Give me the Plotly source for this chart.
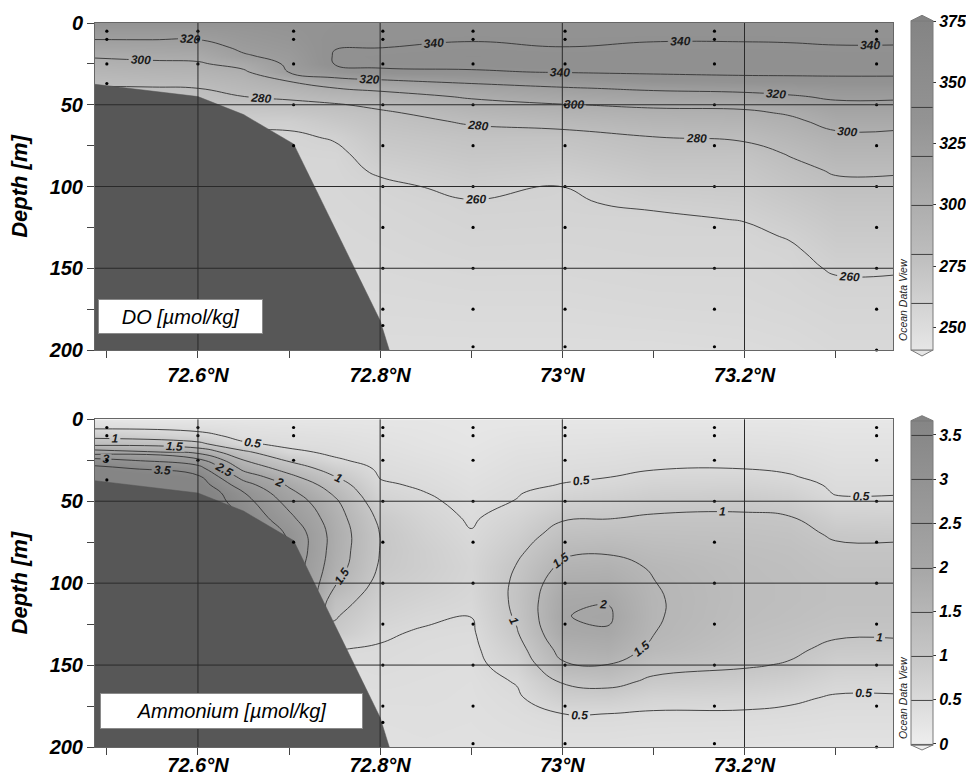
import numpy as np
import plotly.graph_objects as go

# ---------------- canvas / layout helpers ----------------
W, H = 966, 778
M_L, M_R, M_T, M_B = 95, 73, 23, 31
PW, PH = W - M_L - M_R, H - M_T - M_B


def fx(px):
    return (px - M_L) / PW


def fy(py):
    return 1 - (py - M_T) / PH


FONT = "Liberation Sans, Arial, sans-serif"

# ---------------- axes / ticks ----------------
lat_range = [72.487, 73.363]
depth_range = [200, 0]
lat_ticks = [72.6, 72.8, 73.0, 73.2]
lat_ticktext = ["72.6°N", "72.8°N", "73°N", "73.2°N"]
lat_minor = [72.5, 72.7, 72.9, 73.1, 73.3]
depth_ticks = [0, 50, 100, 150, 200]
depth_minor = [25, 75, 125, 175]
grid_depths = [50, 100, 150]

# ---------------- stations (sample points) ----------------
station_lat = [72.5, 72.6, 72.705, 72.803, 72.902, 73.003, 73.167, 73.345]
station_depths = [
    [5, 10, 25, 37],
    [5, 10, 25],
    [5, 10, 25, 50, 75],
    [5, 10, 25, 50, 75, 100, 125, 150, 175, 185],
    [5, 10, 25, 50, 75, 100, 125, 150, 175, 198],
    [5, 10, 25, 50, 75, 100, 125, 150, 175, 198],
    [5, 10, 25, 50, 75, 100, 125, 150, 175, 198],
    [5, 10, 25, 50, 75, 100, 125, 150, 175, 200],
]

# ---------------- bathymetry ----------------
bathy_lat = [72.487, 72.6, 72.65, 72.705, 72.8, 72.81]
bathy_depth = [37.5, 45, 56, 74, 182, 200]

# ---------------- DO field (µmol/kg), read from the section ----------------
do_lat = [72.487, 72.55, 72.6, 72.65, 72.7, 72.75, 72.8, 72.9, 73.0, 73.1, 73.2, 73.25, 73.3, 73.363]
do_depth = [0, 5, 10, 15, 20, 25, 30, 35, 40, 45, 50, 55, 60, 70, 80, 90, 100, 110, 120, 130, 140, 150, 160, 175, 200]
do_profiles = [
    [334, 327, 320.2, 311, 302, 295, 289, 283, 279, 277, 274, 271, 268, 263, 259, 257, 256, 255, 254, 253, 253, 252, 252, 251, 250],
    [334, 327, 320.4, 312, 304, 297, 291, 285, 279, 277, 274, 271, 268, 263, 259, 257, 256, 255, 254, 253, 253, 252, 252, 251, 250],
    [334, 327, 320.2, 313, 305, 298, 292, 286, 279.9, 277, 274, 271, 268, 263, 259, 257, 256, 255, 254, 253, 253, 252, 252, 251, 250],
    [334, 330, 327, 323, 318.5, 306, 297, 291, 286, 279.9, 275, 269, 264, 258, 256, 255, 254, 253, 252, 252, 251, 251, 250, 250, 250],
    [335, 333, 331, 328, 325, 323, 320.6, 301.4, 291.6, 282.7, 276, 270.4, 263.5, 257.5, 256.5, 256, 255.5, 255, 254.5, 254, 253.5, 253, 252.5, 251.5, 250],
    [336, 337, 338.5, 339.6, 340.8, 340.4, 330.1, 315.5, 299.5, 287.8, 278.5, 274.2, 269.9, 261.2, 256.8, 256, 255.5, 255, 254.5, 254, 253.5, 253, 252.5, 251.5, 250],
    [336, 337.3, 338.6, 339.9, 342, 341.6, 338.5, 319.1, 303.7, 293, 283.7, 277.5, 275.5, 271, 266.5, 261.8, 257.5, 256.5, 255.7, 255, 254.3, 253.7, 253, 252, 250],
    [337, 338.2, 339.4, 341.6, 344.4, 342.6, 338.9, 324.8, 312.8, 302, 294.6, 288.1, 281.6, 275, 271, 267, 263.1, 259.2, 258.2, 257.2, 256.2, 255.1, 254, 252.5, 250],
    [337, 338, 339, 340.1, 343.1, 343.8, 340.6, 330.1, 318.3, 308.7, 299.3, 292.5, 285.7, 274.5, 270, 265, 259.6, 258.8, 257.9, 256.9, 256, 255, 254, 252.5, 250],
    [337, 338.2, 339.4, 341.4, 344, 343.6, 341.1, 336.5, 322.7, 312.5, 302.7, 296, 290.4, 279.7, 275.3, 270.8, 266.3, 261.9, 258, 257.5, 256.8, 256, 255, 253.5, 250],
    [337, 338.2, 339.4, 341.4, 344, 343.6, 341.4, 338, 325.1, 314.6, 304.2, 297, 291.9, 281.8, 275, 271, 267.5, 264, 260.5, 257.5, 256.8, 256, 255.2, 254, 251],
    [337, 338.1, 339.3, 341, 343.9, 343.2, 341.4, 338.3, 327.2, 318.2, 309.9, 301.7, 296.8, 288.8, 280.8, 276.5, 272.6, 268.7, 264.9, 261, 258, 257.2, 256.4, 255, 252],
    [337, 338, 339.1, 340.4, 343.3, 344, 341.5, 338.5, 329.9, 322.7, 316.5, 310.9, 305.4, 296.1, 288.7, 281.3, 277.3, 273.4, 270.3, 267.3, 264.4, 261.1, 258.5, 256.5, 254],
    [337, 338, 339.1, 340.4, 343.3, 344, 341.5, 338.5, 329.9, 322.7, 316.5, 310.9, 305.4, 296.1, 288.7, 281.3, 277.3, 273.4, 270.3, 267.3, 264.4, 261.1, 258.5, 256.5, 254],
]
do_isolines = [260, 280, 300, 320, 340]
do_crange = [240.7, 375.2]
do_cbar_ticks = [250, 275, 300, 325, 350, 375]
do_colors = [[0.0, "#e6e6e6"], [0.3, "#bcbcbc"], [0.7, "#939393"], [1.0, "#848484"]]

# ---------------- Ammonium field (µmol/kg), read from the section ----------------
nh4_lat = [72.487, 72.6, 72.65, 72.7, 72.75, 72.8, 72.85, 72.9, 72.95, 73.0, 73.05, 73.1, 73.2, 73.25, 73.3, 73.363]
nh4_depth = [0, 5, 10, 15, 20, 25, 30, 35, 40, 45, 50, 60, 70, 80, 90, 100, 110, 120, 130, 140, 150, 160, 170, 180, 190, 200]
nh4_profiles = [
    [0.2, 0.43, 0.84, 1.33, 2.23, 3.19, 3.65, 3.88, 4.0, 4.0, 4.0, 4.0, 4.0, 4.0, 4.0, 4.0, 4.0, 4.0, 4.0, 4.0, 4.0, 4.0, 4.0, 4.0, 4.0, 4.0],
    [0.2, 0.37, 0.63, 1.12, 1.87, 2.65, 3.21, 3.58, 3.79, 4.0, 4.0, 4.0, 4.0, 4.0, 4.0, 4.0, 4.0, 4.0, 4.0, 4.0, 4.0, 4.0, 4.0, 4.0, 4.0, 4.0],
    [0.2, 0.31, 0.38, 0.55, 1.1, 1.51, 1.86, 2.3, 2.71, 3.03, 3.2, 3.45, 3.45, 3.45, 3.45, 3.45, 3.45, 3.45, 3.45, 3.45, 3.45, 3.45, 3.45, 3.45, 3.45, 3.45],
    [0.2, 0.28, 0.36, 0.42, 0.57, 0.94, 1.29, 1.62, 1.93, 2.14, 2.32, 2.62, 2.95, 3.0, 2.9, 2.9, 3.0, 2.5, 0.9, 0.5, 0.4, 0.4, 0.4, 0.4, 0.4, 0.4],
    [0.2, 0.26, 0.33, 0.39, 0.44, 0.54, 0.78, 1.01, 1.25, 1.43, 1.58, 1.72, 1.80, 1.78, 1.72, 1.55, 1.22, 1.04, 0.9, 0.51, 0.42, 0.4, 0.38, 0.36, 0.35, 0.35],
    [0.2, 0.24, 0.28, 0.32, 0.36, 0.4, 0.44, 0.48, 0.55, 0.63, 0.72, 0.9, 0.99, 0.99, 0.95, 0.85, 0.77, 0.66, 0.54, 0.48, 0.45, 0.42, 0.39, 0.36, 0.35, 0.35],
    [0.2, 0.22, 0.24, 0.26, 0.29, 0.33, 0.37, 0.41, 0.45, 0.505, 0.55, 0.64, 0.72, 0.78, 0.79, 0.74, 0.65, 0.55, 0.47, 0.44, 0.42, 0.4, 0.39, 0.37, 0.36, 0.35],
    [0.18, 0.19, 0.2, 0.22, 0.24, 0.26, 0.29, 0.32, 0.35, 0.38, 0.41, 0.46, 0.52, 0.58, 0.62, 0.6, 0.56, 0.505, 0.45, 0.42, 0.4, 0.38, 0.37, 0.36, 0.35, 0.34],
    [0.18, 0.21, 0.25, 0.28, 0.32, 0.35, 0.38, 0.41, 0.44, 0.48, 0.51, 0.65, 0.78, 0.9, 1.02, 1.08, 1.1, 1.06, 0.97, 0.82, 0.67, 0.52, 0.45, 0.41, 0.38, 0.35],
    [0.18, 0.22, 0.26, 0.3, 0.34, 0.38, 0.42, 0.46, 0.51, 0.62, 0.72, 0.95, 1.17, 1.39, 1.6, 1.8, 1.93, 1.985, 1.9, 1.68, 1.43, 1.04, 0.77, 0.49, 0.41, 0.35],
    [0.18, 0.22, 0.27, 0.31, 0.36, 0.4, 0.45, 0.49, 0.58, 0.68, 0.78, 0.98, 1.21, 1.45, 1.64, 1.82, 1.97, 2.06, 1.96, 1.76, 1.49, 1.14, 0.79, 0.49, 0.41, 0.35],
    [0.18, 0.23, 0.28, 0.34, 0.39, 0.44, 0.48, 0.58, 0.67, 0.77, 0.86, 1.04, 1.18, 1.32, 1.46, 1.51, 1.53, 1.53, 1.51, 1.41, 1.15, 0.92, 0.64, 0.46, 0.39, 0.33],
    [0.18, 0.23, 0.29, 0.34, 0.39, 0.45, 0.495, 0.59, 0.69, 0.8, 0.9, 1.05, 1.15, 1.23, 1.28, 1.3, 1.3, 1.28, 1.22, 1.14, 1.04, 0.84, 0.61, 0.46, 0.38, 0.32],
    [0.18, 0.23, 0.27, 0.32, 0.37, 0.42, 0.46, 0.52, 0.62, 0.72, 0.82, 1.02, 1.12, 1.19, 1.23, 1.25, 1.25, 1.22, 1.15, 1.07, 0.97, 0.76, 0.55, 0.44, 0.37, 0.3],
    [0.16, 0.2, 0.24, 0.28, 0.31, 0.34, 0.38, 0.41, 0.45, 0.48, 0.56, 0.75, 0.95, 1.07, 1.14, 1.19, 1.19, 1.14, 1.06, 0.92, 0.76, 0.6, 0.47, 0.41, 0.35, 0.3],
    [0.16, 0.2, 0.24, 0.28, 0.31, 0.34, 0.38, 0.41, 0.45, 0.48, 0.55, 0.74, 0.93, 1.07, 1.14, 1.19, 1.19, 1.14, 1.05, 0.91, 0.75, 0.59, 0.47, 0.41, 0.35, 0.3],
]
nh4_isolines = [0.5, 1.0, 1.5, 2.0, 2.5, 3.0, 3.5]
nh4_crange = [-0.01, 3.66]
nh4_cbar_ticks = [0, 0.5, 1, 1.5, 2, 2.5, 3, 3.5]
nh4_colors = [[0.0, "#eeeeee"], [0.275, "#c6c6c6"], [0.55, "#a6a6a6"], [1.0, "#858585"]]

# plotly spaces contour labels more densely when a trace has many levels; padding the
# level list below the data range (no lines there) gives ODV-like label density
LEVEL_SLOTS = 46

# ---------------- styles ----------------
BATHY_COL = "#575757"
GRID_COL = "#2a2a2a"
FRAME_COL = "#666666"
CB_LINE = "#7a7a7a"
TICK_FONT = dict(family=FONT, size=20, color="black", weight="bold", style="italic")
CB_FONT = dict(family=FONT, size=16, color="black", weight="bold", style="italic")
LABEL_FONT = dict(family=FONT, size=12, color="#1a1a1a", weight="bold", style="italic")

# panel geometry (pixels) -> paper fractions
top_dom = [fy(350), 1.0]
bot_dom = [0.0, fy(419.3)]
CB_X0, CB_X1 = 911, 933
cb_top = dict(bottom=350.0, top=20.8)
cb_bot = dict(bottom=745.0, top=420.7)

fig = go.Figure()


def add_panel(xa, ya, lat, depth, profiles, isolines, crange, colors, cbticks, cbpix):
    z = np.array(profiles, dtype=float).T
    step = isolines[1] - isolines[0]
    top = isolines[-1]
    fig.add_trace(go.Contour(
        x=lat, y=depth, z=z, xaxis=xa, yaxis=ya,
        zauto=False, zmin=crange[0], zmax=crange[1], colorscale=colors,
        autocontour=False,
        contours=dict(start=top - step * (LEVEL_SLOTS - 1), end=top, size=step,
                      coloring="heatmap", showlabels=True, labelfont=LABEL_FONT),
        line=dict(color="#333333", width=0.9, smoothing=1.3),
        hoverinfo="skip",
        colorbar=dict(
            x=fx(CB_X0), xanchor="left", xpad=0,
            y=fy((cbpix["bottom"] + cbpix["top"]) / 2), yanchor="middle", ypad=0,
            len=(cbpix["bottom"] - cbpix["top"]) / PH, lenmode="fraction",
            thickness=CB_X1 - CB_X0, thicknessmode="pixels",
            outlinecolor=CB_LINE, outlinewidth=1,
            tickmode="array", tickvals=cbticks,
            ticks="outside", ticklen=3, tickcolor="#333",
            tickfont=CB_FONT,
        ),
    ))
    # bathymetry
    fig.add_trace(go.Scatter(
        x=bathy_lat + [lat_range[0]], y=bathy_depth + [depth_range[0]],
        xaxis=xa, yaxis=ya, mode="lines", fill="toself", fillcolor=BATHY_COL,
        line=dict(color=BATHY_COL, width=0.5), hoverinfo="skip", showlegend=False))
    # station sample points
    sx, sy = [], []
    for la, ds in zip(station_lat, station_depths):
        sx += [la] * len(ds)
        sy += ds
    fig.add_trace(go.Scatter(
        x=sx, y=sy, xaxis=xa, yaxis=ya, mode="markers",
        marker=dict(size=3.2, color="black"), cliponaxis=False,
        hoverinfo="skip", showlegend=False))


add_panel("x", "y", do_lat, do_depth, do_profiles, do_isolines, do_crange, do_colors, do_cbar_ticks, cb_top)
add_panel("x2", "y2", nh4_lat, nh4_depth, nh4_profiles, nh4_isolines, nh4_crange, nh4_colors, nh4_cbar_ticks, cb_bot)

xa_common = dict(
    range=lat_range, tickmode="array", tickvals=lat_ticks, ticktext=lat_ticktext,
    ticks="outside", ticklen=7, tickwidth=1, tickcolor="#444",
    minor=dict(tickmode="array", tickvals=lat_minor, ticks="outside", ticklen=7, tickcolor="#444"),
    showgrid=False, zeroline=False, showline=True, mirror=True,
    linecolor=FRAME_COL, linewidth=1, tickfont=TICK_FONT, domain=[0, 1],
)
ya_common = dict(
    range=depth_range, tickmode="array", tickvals=depth_ticks,
    ticks="outside", ticklen=7, tickwidth=1, tickcolor="#444",
    minor=dict(tickmode="array", tickvals=depth_minor, ticks="outside", ticklen=7, tickcolor="#444"),
    showgrid=False, zeroline=False, showline=True, mirror=True,
    linecolor=FRAME_COL, linewidth=1, tickfont=TICK_FONT,
    title=dict(text="Depth [m]", standoff=14,
               font=dict(family=FONT, size=22, color="black", weight="bold", style="italic")),
)

shapes = []
annotations = []
for xr, yr in (("x", "y"), ("x2", "y2")):
    for la in lat_ticks:
        shapes.append(dict(type="line", xref=xr, yref=yr + " domain", x0=la, x1=la, y0=0, y1=1,
                           line=dict(color=GRID_COL, width=1), layer="above"))
    for d in grid_depths:
        shapes.append(dict(type="line", xref=xr + " domain", yref=yr, x0=0, x1=1, y0=d, y1=d,
                           line=dict(color=GRID_COL, width=1), layer="above"))


# colour bar arrow caps (ODV style)
def cap(base_py, tip_py, color):
    xm = (CB_X0 + CB_X1) / 2
    path = "M {} {} L {} {} L {} {} Z".format(fx(CB_X0), fy(base_py), fx(xm), fy(tip_py), fx(CB_X1), fy(base_py))
    return dict(type="path", xref="paper", yref="paper", path=path,
                fillcolor=color, line=dict(color=CB_LINE, width=1), layer="above")


shapes.append(cap(cb_top["top"], cb_top["top"] - 5.5, do_colors[-1][1]))
shapes.append(cap(cb_top["bottom"], cb_top["bottom"] + 6, do_colors[0][1]))
shapes.append(cap(cb_bot["top"], cb_bot["top"] - 5, nh4_colors[-1][1]))
shapes.append(cap(cb_bot["bottom"], cb_bot["bottom"] + 5, nh4_colors[0][1]))

# variable name boxes
annotations.append(dict(text="DO [µmol/kg]", xref="paper", yref="paper",
                        x=fx(98), y=fy(334), xanchor="left", yanchor="bottom",
                        showarrow=False, bgcolor="white", bordercolor="#8a8a8a", borderwidth=1,
                        borderpad=3, width=157, height=27,
                        font=dict(family=FONT, size=20, color="black", style="italic")))
annotations.append(dict(text="Ammonium [µmol/kg]", xref="paper", yref="paper",
                        x=fx(100), y=fy(729), xanchor="left", yanchor="bottom",
                        showarrow=False, bgcolor="white", bordercolor="#8a8a8a", borderwidth=1,
                        borderpad=3, width=255, height=28,
                        font=dict(family=FONT, size=20, color="black", style="italic")))
for cy in (300, 698):
    annotations.append(dict(text="Ocean Data View", xref="paper", yref="paper",
                            x=fx(903), y=fy(cy), xanchor="center", yanchor="middle",
                            textangle=-90, showarrow=False,
                            font=dict(family=FONT, size=10.5, color="#222", style="italic")))

fig.update_layout(
    width=W, height=H,
    margin=dict(l=M_L, r=M_R, t=M_T, b=M_B, autoexpand=False),
    paper_bgcolor="white", plot_bgcolor="white",
    showlegend=False,
    xaxis=dict(anchor="y", **xa_common),
    yaxis=dict(anchor="x", domain=top_dom, **ya_common),
    xaxis2=dict(anchor="y2", ticklabelstandoff=-7, **xa_common),
    yaxis2=dict(anchor="x2", domain=bot_dom, **ya_common),
    shapes=shapes, annotations=annotations,
    font=dict(family=FONT),
)

# the page body has a default 8px margin; remove it so the figure fills the window exactly
fig.write_html("out.html",
               config={"displayModeBar": False},
               post_script="document.body.style.margin='0';document.body.style.padding='0';"
                           "document.body.style.overflow='hidden';")
